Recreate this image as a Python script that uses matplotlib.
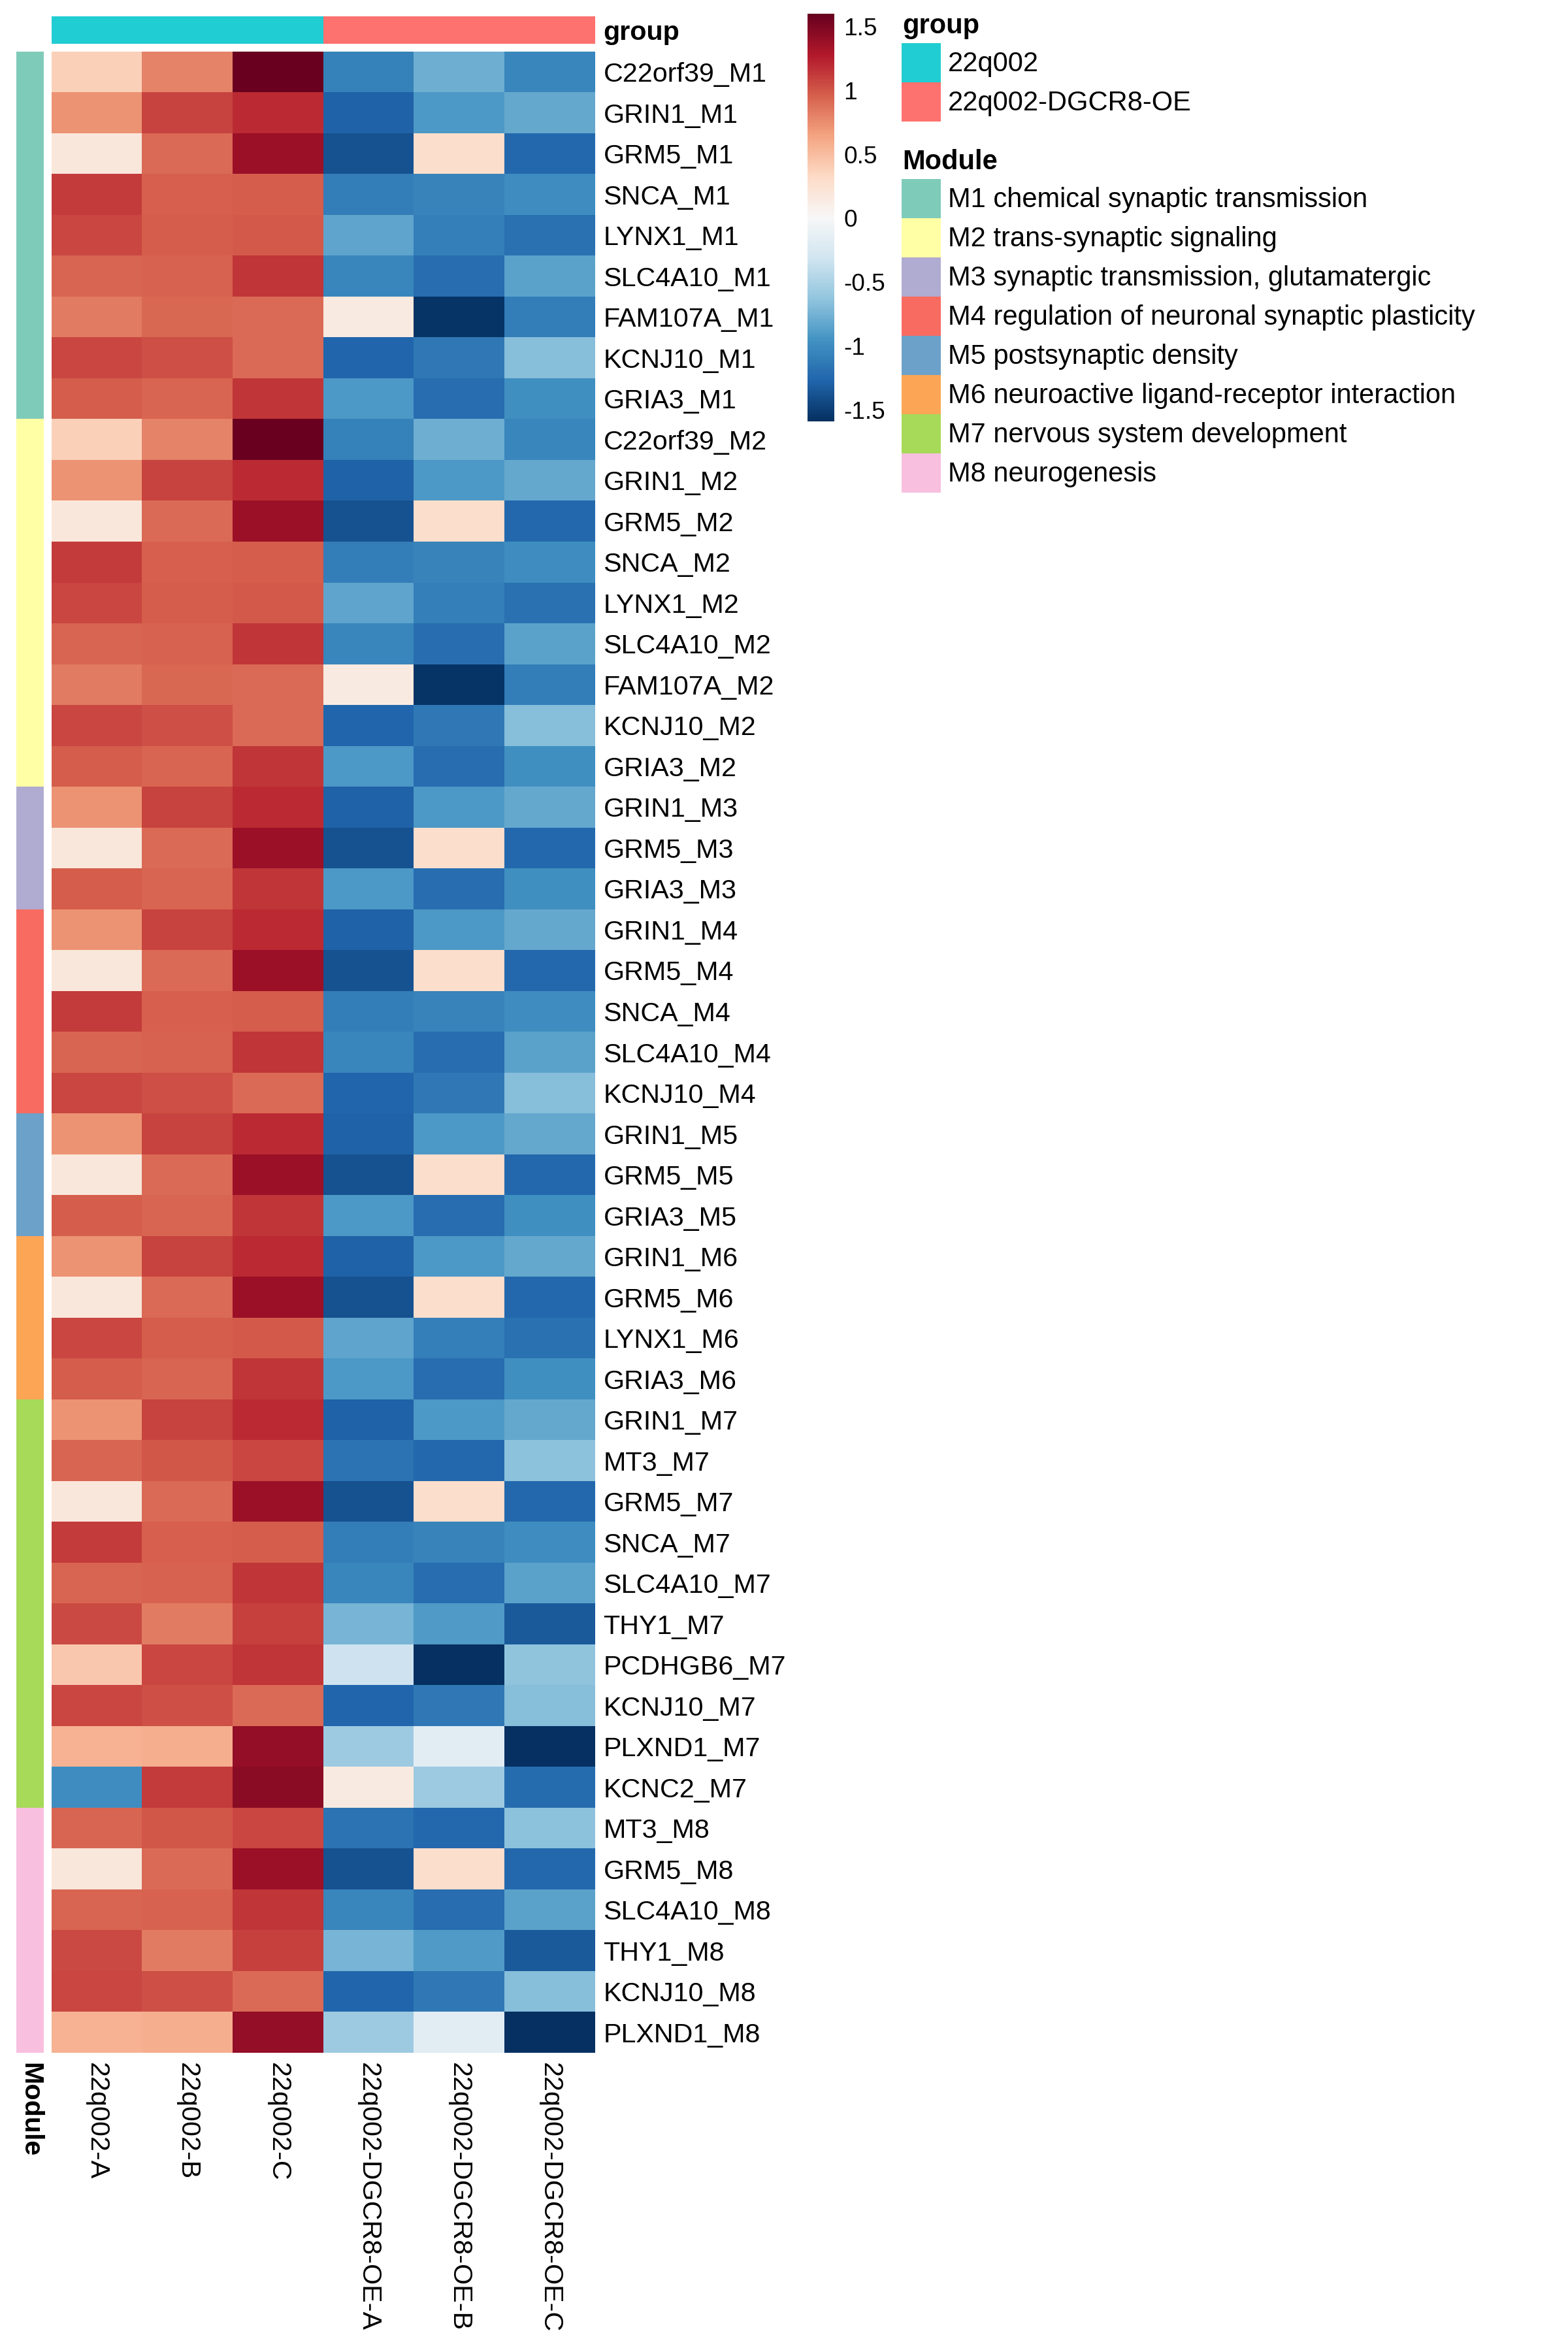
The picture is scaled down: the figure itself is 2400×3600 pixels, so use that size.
import matplotlib
matplotlib.use("Agg")
import matplotlib.pyplot as plt
import numpy as np
from matplotlib.colors import ListedColormap, Normalize
from matplotlib.patches import Rectangle
import matplotlib.cm as cm

plt.rcParams['font.family'] = ['Liberation Sans', 'DejaVu Sans']

# ---------------- data ----------------
samples = ["22q002-A", "22q002-B", "22q002-C",
           "22q002-DGCR8-OE-A", "22q002-DGCR8-OE-B", "22q002-DGCR8-OE-C"]
sample_groups = ["22q002", "22q002", "22q002",
                 "22q002-DGCR8-OE", "22q002-DGCR8-OE", "22q002-DGCR8-OE"]
group_names = ["22q002", "22q002-DGCR8-OE"]
group_colors = ["#20CDD2", "#FD716E"]

module_ids = ["M1", "M2", "M3", "M4", "M5", "M6", "M7", "M8"]
module_names = ["M1 chemical synaptic transmission",
                "M2 trans-synaptic signaling",
                "M3 synaptic transmission, glutamatergic",
                "M4 regulation of neuronal synaptic plasticity",
                "M5 postsynaptic density",
                "M6 neuroactive ligand-receptor interaction",
                "M7 nervous system development",
                "M8 neurogenesis"]
module_colors = ["#7FCBBA", "#FFFFA5", "#B0ABD0", "#F76B61",
                 "#6CA1C9", "#FCA555", "#A6DA58", "#F8BFDF"]

m1_genes = ["C22orf39", "GRIN1", "GRM5", "SNCA", "LYNX1", "SLC4A10", "FAM107A", "KCNJ10", "GRIA3"]
m2_genes = ["C22orf39", "GRIN1", "GRM5", "SNCA", "LYNX1", "SLC4A10", "FAM107A", "KCNJ10", "GRIA3"]
m3_genes = ["GRIN1", "GRM5", "GRIA3"]
m4_genes = ["GRIN1", "GRM5", "SNCA", "SLC4A10", "KCNJ10"]
m5_genes = ["GRIN1", "GRM5", "GRIA3"]
m6_genes = ["GRIN1", "GRM5", "LYNX1", "GRIA3"]
m7_genes = ["GRIN1", "MT3", "GRM5", "SNCA", "SLC4A10", "THY1", "PCDHGB6", "KCNJ10", "PLXND1", "KCNC2"]
m8_genes = ["MT3", "GRM5", "SLC4A10", "THY1", "KCNJ10", "PLXND1"]
module_genes = [m1_genes, m2_genes, m3_genes, m4_genes, m5_genes, m6_genes, m7_genes, m8_genes]

# z-scored expression per gene (columns follow `samples`)
C22orf39 = [0.39, 0.80, 1.58, -1.07, -0.78, -1.04]
GRIN1    = [0.72, 1.08, 1.19, -1.29, -0.91, -0.81]
GRM5     = [0.19, 0.91, 1.37, -1.38, 0.29, -1.25]
SNCA     = [1.12, 0.96, 0.97, -1.10, -1.06, -0.99]
LYNX1    = [1.07, 0.97, 0.98, -0.84, -1.09, -1.18]
SLC4A10  = [0.93, 0.95, 1.15, -1.03, -1.21, -0.85]
FAM107A  = [0.83, 0.92, 0.91, 0.15, -1.56, -1.10]
KCNJ10   = [1.07, 1.03, 0.91, -1.26, -1.13, -0.68]
GRIA3    = [0.97, 0.93, 1.14, -0.91, -1.21, -0.97]
MT3      = [0.93, 0.99, 1.07, -1.17, -1.25, -0.65]
THY1     = [1.06, 0.83, 1.10, -0.74, -0.90, -1.33]
PCDHGB6  = [0.44, 1.07, 1.14, -0.33, -1.59, -0.64]
PLXND1   = [0.56, 0.58, 1.41, -0.57, -0.17, -1.59]
KCNC2    = [-0.99, 1.12, 1.44, 0.15, -0.57, -1.22]

gene_values = {"C22orf39": C22orf39, "GRIN1": GRIN1, "GRM5": GRM5, "SNCA": SNCA,
               "LYNX1": LYNX1, "SLC4A10": SLC4A10, "FAM107A": FAM107A,
               "KCNJ10": KCNJ10, "GRIA3": GRIA3, "MT3": MT3, "THY1": THY1,
               "PCDHGB6": PCDHGB6, "PLXND1": PLXND1, "KCNC2": KCNC2}

vmin, vmax = -1.59, 1.60
cbar_ticks = [-1.5, -1, -0.5, 0, 0.5, 1, 1.5]
cbar_ticklabels = ["-1.5", "-1", "-0.5", "0", "0.5", "1", "1.5"]

# ---------------- build table ----------------
row_labels, row_module, rows = [], [], []
for mi, (mid, genes) in enumerate(zip(module_ids, module_genes)):
    for g in genes:
        row_labels.append(f"{g}_{mid}")
        row_module.append(mi)
        rows.append(gene_values[g])
mat = np.array(rows)
nrow, ncol = mat.shape

cmap = matplotlib.colormaps["RdBu_r"]
norm = Normalize(vmin=vmin, vmax=vmax)

# ---------------- layout (pixels) ----------------
W, H = 2400, 3600
fig = plt.figure(figsize=(W / 300, H / 300), dpi=300)

def rect(l, t, r, b):
    return [l / W, 1 - b / H, (r - l) / W, (b - t) / H]

hm_l, hm_r, hm_t, hm_b = 79, 911, 79, 3142
FS = 9.9
LFS = 10.0

# heatmap
ax = fig.add_axes(rect(hm_l, hm_t, hm_r, hm_b))
ax.imshow(mat, cmap=cmap, norm=norm, aspect="auto", interpolation="nearest")
ax.set_yticks(np.arange(nrow))
ax.set_yticklabels(row_labels, fontsize=FS)
ax.yaxis.tick_right()
ax.set_xticks(np.arange(ncol))
ax.set_xticklabels(samples, rotation=270, fontsize=FS, va="top", ha="center")
ax.tick_params(length=0, pad=3.0)
ax.tick_params(axis="x", pad=3.6)
for s in ax.spines.values():
    s.set_visible(False)

# group annotation bar
gax = fig.add_axes(rect(hm_l, 25, hm_r, 67))
gcmap = ListedColormap(group_colors)
gidx = np.array([[group_names.index(g) for g in sample_groups]])
gax.imshow(gidx, cmap=gcmap, vmin=-0.5, vmax=len(group_names) - 0.5,
           aspect="auto", interpolation="nearest")
gax.set_xticks([])
gax.set_yticks([0])
gax.set_yticklabels(["group"], fontsize=FS, fontweight="bold")
gax.yaxis.tick_right()
gax.tick_params(length=0, pad=3.0)
for s in gax.spines.values():
    s.set_visible(False)

# module annotation bar
max_ = fig.add_axes(rect(25, hm_t, 67, hm_b))
mcmap = ListedColormap(module_colors)
max_.imshow(np.array(row_module)[:, None], cmap=mcmap, vmin=-0.5,
            vmax=len(module_colors) - 0.5, aspect="auto", interpolation="nearest")
max_.set_yticks([])
max_.set_xticks([0])
max_.set_xticklabels(["Module"], rotation=270, fontsize=FS, fontweight="bold",
                     va="top", ha="center")
max_.tick_params(length=0, pad=3.6)
for s in max_.spines.values():
    s.set_visible(False)

# colorbar
cax = fig.add_axes(rect(1236, 21, 1277, 645))
sm = cm.ScalarMappable(norm=norm, cmap=cmap)
cb = fig.colorbar(sm, cax=cax, ticks=cbar_ticks)
cb.ax.set_yticklabels(cbar_ticklabels, fontsize=8.9)
cb.outline.set_visible(False)
cb.ax.tick_params(length=0, pad=3.4)

# legends (drawn in pixel space)
ov = fig.add_axes([0, 0, 1, 1], zorder=-1)
ov.set_xlim(0, W)
ov.set_ylim(H, 0)
ov.axis("off")

lx, sq = 1380, 60
ov.text(lx + 1, 40, "group", fontsize=LFS, fontweight="bold", va="center", ha="left")
y0 = 66
for i, (name, col) in enumerate(zip(group_names, group_colors)):
    ov.add_patch(Rectangle((lx, y0 + i * sq), sq, sq, facecolor=col, edgecolor="none"))
    ov.text(lx + sq + 11, y0 + i * sq + sq / 2 + 2, name, fontsize=LFS, va="center", ha="left")

ov.text(lx + 1, 248, "Module", fontsize=LFS, fontweight="bold", va="center", ha="left")
y0 = 274
for i, (name, col) in enumerate(zip(module_names, module_colors)):
    ov.add_patch(Rectangle((lx, y0 + i * sq), sq, sq, facecolor=col, edgecolor="none"))
    ov.text(lx + sq + 11, y0 + i * sq + sq / 2 + 2, name, fontsize=LFS, va="center", ha="left")

fig.savefig("out.png", dpi=300, facecolor="white")
